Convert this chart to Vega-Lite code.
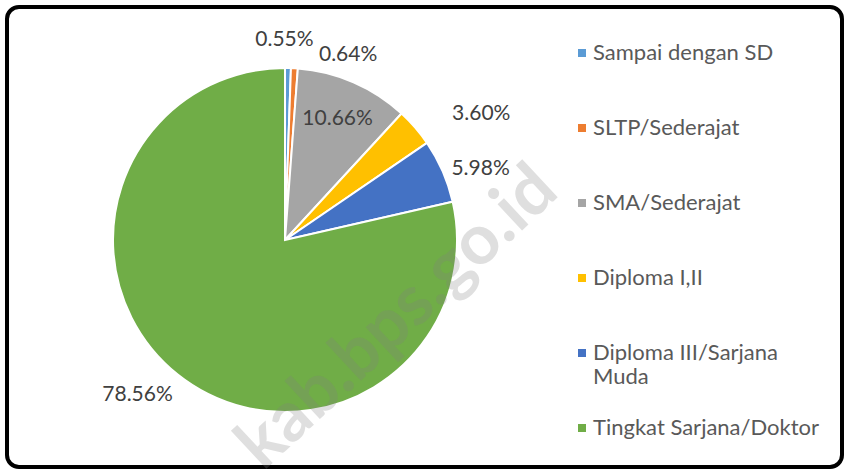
{
  "$schema": "https://vega.github.io/schema/vega-lite/v6.json",
  "width": 835,
  "height": 460,
  "autosize": {"type": "none"},
  "padding": {"left": 7, "top": 7, "right": 6, "bottom": 5},
  "background": "#ffffff",
  "config": {
    "view": {"stroke": null},
    "font": "Lato"
  },
  "title": {
    "text": "kab.bps.go.id",
    "orient": "top",
    "anchor": "start",
    "frame": "group",
    "offset": 0,
    "align": "center",
    "baseline": "middle",
    "angle": -43,
    "dx": -153,
    "dy": 737,
    "font": "Lato",
    "fontSize": 70,
    "fontWeight": "bold",
    "color": "rgba(128,128,128,0.25)",
    "zindex": 1
  },
  "data": {
    "values": [
      {"idx": 1, "cat": "Sampai dengan SD", "share": 0.0055},
      {"idx": 2, "cat": "SLTP/Sederajat", "share": 0.0064},
      {"idx": 3, "cat": "SMA/Sederajat", "share": 0.1066},
      {"idx": 4, "cat": "Diploma I,II", "share": 0.0360},
      {"idx": 5, "cat": "Diploma III/Sarjana Muda", "share": 0.0598},
      {"idx": 6, "cat": "Tingkat Sarjana/Doktor", "share": 0.7856}
    ]
  },
  "encoding": {
    "theta": {"field": "share", "type": "quantitative", "stack": true},
    "order": {"field": "idx", "type": "quantitative"}
  },
  "layer": [
    {
      "data": {"values": [{"frame": 1}]},
      "mark": {"type": "rect", "fill": "transparent", "stroke": "#000000", "strokeWidth": 4, "cornerRadius": 12},
      "encoding": {
        "theta": null,
        "order": null,
        "x": {"value": 0},
        "x2": {"value": "width"},
        "y": {"value": 0},
        "y2": {"value": "height"}
      }
    },
    {
      "mark": {"type": "arc", "x": 278, "y": 233, "outerRadius": 172, "stroke": "#ffffff", "strokeWidth": 2},
      "encoding": {
        "color": {
          "field": "cat",
          "type": "nominal",
          "scale": {
            "domain": ["Sampai dengan SD", "SLTP/Sederajat", "SMA/Sederajat", "Diploma I,II", "Diploma III/Sarjana Muda", "Tingkat Sarjana/Doktor"],
            "range": ["#5b9bd5", "#ed7d31", "#a5a5a5", "#ffc000", "#4472c4", "#70ad47"]
          },
          "legend": {
            "title": null,
            "orient": "none",
            "legendX": 564,
            "legendY": 35,
            "padding": 0,
            "symbolType": "square",
            "symbolSize": 64,
            "symbolStrokeWidth": 0,
            "labelFont": "Lato",
            "labelFontSize": 22,
            "labelColor": "#595959",
            "labelOffset": 0,
            "labelLimit": 300,
            "gridAlign": "all",
            "rowPadding": 29,
            "labelExpr": "datum.label == 'Diploma III/Sarjana Muda' ? ['Diploma III/Sarjana', 'Muda'] : datum.label"
          }
        }
      }
    },
    {
      "mark": {"type": "text", "x": 278, "y": 233, "radius": 200, "dx": -4, "font": "Lato", "fontSize": 21, "fill": "#404040", "align": "center", "baseline": "middle"},
      "encoding": {
        "detail": {"field": "cat"},
        "text": {"condition": {"test": "datum.idx == 1", "field": "share", "format": ".2%"}, "value": ""}
      }
    },
    {
      "mark": {"type": "text", "x": 278, "y": 233, "radius": 185, "dx": 53, "font": "Lato", "fontSize": 21, "fill": "#404040", "align": "center", "baseline": "middle"},
      "encoding": {
        "detail": {"field": "cat"},
        "text": {"condition": {"test": "datum.idx == 2", "field": "share", "format": ".2%"}, "value": ""}
      }
    },
    {
      "mark": {"type": "text", "x": 278, "y": 233, "radius": 132, "font": "Lato", "fontSize": 21, "fill": "#404040", "align": "center", "baseline": "middle"},
      "encoding": {
        "detail": {"field": "cat"},
        "text": {"condition": {"test": "datum.idx == 3", "field": "share", "format": ".2%"}, "value": ""}
      }
    },
    {
      "mark": {"type": "text", "x": 278, "y": 233, "radius": 233, "dx": 20, "dy": 26, "font": "Lato", "fontSize": 21, "fill": "#404040", "align": "center", "baseline": "middle"},
      "encoding": {
        "detail": {"field": "cat"},
        "text": {"condition": {"test": "datum.idx == 4", "field": "share", "format": ".2%"}, "value": ""}
      }
    },
    {
      "mark": {"type": "text", "x": 278, "y": 233, "radius": 208, "dx": 5, "dy": 12, "font": "Lato", "fontSize": 21, "fill": "#404040", "align": "center", "baseline": "middle"},
      "encoding": {
        "detail": {"field": "cat"},
        "text": {"condition": {"test": "datum.idx == 5", "field": "share", "format": ".2%"}, "value": ""}
      }
    },
    {
      "mark": {"type": "text", "x": 278, "y": 233, "radius": 214, "dx": -14, "dy": -12, "font": "Lato", "fontSize": 21, "fill": "#404040", "align": "center", "baseline": "middle"},
      "encoding": {
        "detail": {"field": "cat"},
        "text": {"condition": {"test": "datum.idx == 6", "field": "share", "format": ".2%"}, "value": ""}
      }
    }
  ]
}
